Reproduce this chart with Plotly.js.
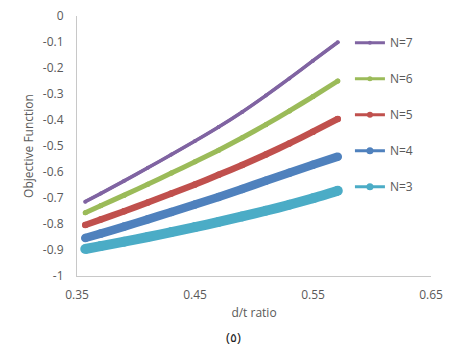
<!DOCTYPE html>
<html>
<head>
<meta charset="utf-8">
<script src="https://cdn.plot.ly/plotly-3.0.1.min.js"></script>
<style>
  html, body { margin: 0; padding: 0; background: #ffffff; }
  #chart { width: 455px; height: 347px; }
</style>
</head>
<body>
<div id="chart"></div>
<script>
// d/t ratio samples shared by every series
const dtRatio = [0.357, 0.37, 0.39, 0.41, 0.43, 0.45, 0.47, 0.49, 0.51, 0.53, 0.55, 0.571];

// Objective function values for each number of layers N
const objN7 = [-0.714, -0.683, -0.634, -0.584, -0.533, -0.481, -0.427, -0.369, -0.306, -0.240, -0.172, -0.101];
const objN6 = [-0.757, -0.730, -0.689, -0.647, -0.604, -0.561, -0.516, -0.468, -0.418, -0.365, -0.310, -0.250];
const objN5 = [-0.804, -0.783, -0.751, -0.717, -0.683, -0.648, -0.611, -0.573, -0.533, -0.490, -0.445, -0.396];
const objN4 = [-0.854, -0.837, -0.810, -0.782, -0.754, -0.725, -0.696, -0.665, -0.634, -0.603, -0.572, -0.541];
const objN3 = [-0.896, -0.885, -0.868, -0.850, -0.831, -0.812, -0.792, -0.771, -0.749, -0.726, -0.701, -0.672];

const seriesNames = ['N=7', 'N=6', 'N=5', 'N=4', 'N=3'];
const seriesValues = [objN7, objN6, objN5, objN4, objN3];

const xTickVals = [0.35, 0.45, 0.55, 0.65];
const yTickVals = [0, -0.1, -0.2, -0.3, -0.4, -0.5, -0.6, -0.7, -0.8, -0.9, -1];

// styling per series: colour, band width, legend line/marker
const seriesStyle = [
  { color: '#8064A2', band: 3.5, legendLine: 3, legendMarker: 4 },
  { color: '#9BBB59', band: 5,   legendLine: 3, legendMarker: 5 },
  { color: '#C0504D', band: 6.5, legendLine: 3, legendMarker: 6 },
  { color: '#4F81BD', band: 8.5, legendLine: 3, legendMarker: 7 },
  { color: '#4BACC6', band: 10,  legendLine: 3, legendMarker: 7 }
];

const traces = [];
// thin line+marker traces that carry the legend entries
seriesNames.forEach((name, i) => {
  const st = seriesStyle[i];
  traces.push({
    type: 'scatter', mode: 'lines+markers',
    x: dtRatio, y: seriesValues[i], name: name,
    legendgroup: name, showlegend: true,
    line: { color: st.color, width: st.legendLine, shape: 'spline', smoothing: 0.6 },
    marker: { color: st.color, size: st.legendMarker, symbol: 'circle' },
    hoverinfo: 'skip'
  });
});
// thick bands of dense markers
seriesNames.forEach((name, i) => {
  const st = seriesStyle[i];
  traces.push({
    type: 'scatter', mode: 'lines+markers',
    x: dtRatio, y: seriesValues[i], name: name,
    legendgroup: name, showlegend: false,
    line: { color: st.color, width: st.band, shape: 'spline', smoothing: 0.6 },
    marker: { color: st.color, size: st.band, symbol: 'circle' },
    hoverinfo: 'skip'
  });
});

const textFont = { family: 'Open Sans, Liberation Sans, sans-serif', size: 12, color: '#595959' };

const layout = {
  width: 455, height: 347,
  margin: { l: 77, r: 24, t: 16, b: 71 },
  paper_bgcolor: '#ffffff', plot_bgcolor: '#ffffff',
  showlegend: true,
  legend: {
    x: 0.771, xanchor: 'left', y: 0.953, yanchor: 'top',
    traceorder: 'grouped', tracegroupgap: 17,
    font: textFont, bgcolor: 'rgba(0,0,0,0)', borderwidth: 0
  },
  xaxis: {
    range: [0.35, 0.65], tickvals: xTickVals, ticktext: xTickVals.map(v => v.toFixed(2)),
    showgrid: false, zeroline: false, showline: true, linecolor: '#C8C8C8', linewidth: 1,
    ticks: '', ticklabelstandoff: 8, tickfont: textFont,
    title: { text: 'd/t ratio', font: textFont, standoff: 6 }
  },
  yaxis: {
    range: [-1, 0], tickvals: yTickVals, ticktext: yTickVals.map(v => v === 0 ? '0' : String(v)),
    showgrid: false, zeroline: false, showline: true, linecolor: '#C8C8C8', linewidth: 1,
    ticks: '', ticklabelstandoff: 10, tickfont: textFont,
    title: { text: 'Objective Function', font: textFont, standoff: 6 }
  },
  annotations: [{
    text: '(٥)', xref: 'paper', yref: 'paper', x: 0.4435, y: -0.236,
    xanchor: 'center', yanchor: 'middle', showarrow: false,
    font: { family: 'Noto Sans, DejaVu Sans, sans-serif', size: 13, color: '#222222' }
  }]
};

Plotly.newPlot('chart', traces, layout, { displayModeBar: false, staticPlot: true });
</script>
</body>
</html>
